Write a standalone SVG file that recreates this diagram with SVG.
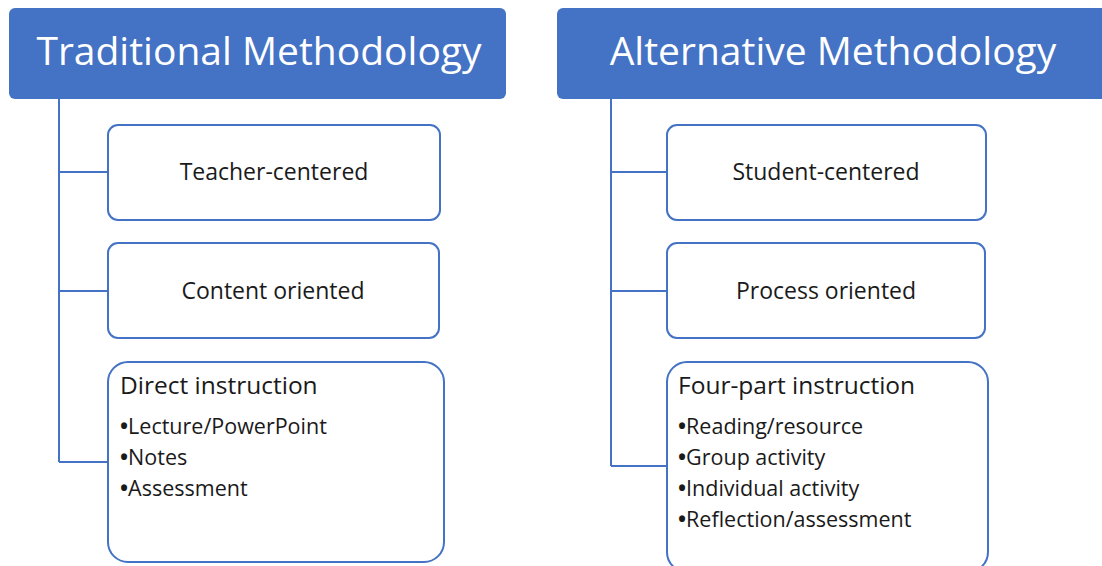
<svg xmlns="http://www.w3.org/2000/svg" width="1102" height="566" viewBox="0 0 1102 566">
<style>
.hdr{fill:#4472C4;}
.hdrt{font-family:"Open Sans",Lato,sans-serif;font-size:39px;fill:#ffffff;text-anchor:middle;}
.box{fill:#ffffff;stroke:#4472C4;stroke-width:2;}
.bt{font-family:"Open Sans",Lato,sans-serif;font-size:23px;fill:#1a1a1a;text-anchor:middle;}
.tt{font-family:"Open Sans",Lato,sans-serif;font-size:24.5px;fill:#1a1a1a;}
.li{font-family:"Open Sans",Lato,sans-serif;font-size:21.5px;fill:#1a1a1a;}
.bu{font-weight:bold;}
.con{fill:none;stroke:#4472C4;stroke-width:2;}
</style>
<rect width="1102" height="566" fill="#ffffff"/>
<g id="connectors">
<path class="con" d="M59,99 V462 M59,172 H108 M59,291 H108 M59,462 H108"/>
<path class="con" d="M611,99 V466 M611,172 H667 M611,291 H667 M611,466 H667"/>
</g>
<g id="traditional">
<rect class="hdr" x="9" y="8" width="497" height="91" rx="6"/>
<text class="hdrt" x="259" y="65">Traditional Methodology</text>
</g>
<g id="teacher-centered">
<rect class="box" x="108" y="125" width="332" height="95" rx="10"/>
<text class="bt" x="274" y="180">Teacher-centered</text>
</g>
<g id="content-oriented">
<rect class="box" x="108" y="243" width="331" height="95" rx="10"/>
<text class="bt" x="273" y="299">Content oriented</text>
</g>
<g id="direct-instruction">
<rect class="box" x="108" y="362" width="336" height="200" rx="20"/>
<text class="tt" x="120" y="394">Direct instruction</text>
<text class="li" x="120" y="434"><tspan class="bu">•</tspan>Lecture/PowerPoint</text>
<text class="li" x="120" y="465"><tspan class="bu">•</tspan>Notes</text>
<text class="li" x="120" y="496"><tspan class="bu">•</tspan>Assessment</text>
</g>
<g id="alternative">
<rect class="hdr" x="557" y="8" width="560" height="91" rx="6"/>
<text class="hdrt" x="833" y="65">Alternative Methodology</text>
</g>
<g id="student-centered">
<rect class="box" x="667" y="125" width="319" height="95" rx="10"/>
<text class="bt" x="826" y="180">Student-centered</text>
</g>
<g id="process-oriented">
<rect class="box" x="667" y="243" width="318" height="95" rx="10"/>
<text class="bt" x="826" y="299">Process oriented</text>
</g>
<g id="four-part-instruction">
<rect class="box" x="667" y="362" width="321" height="210" rx="20"/>
<text class="tt" x="678" y="394">Four-part instruction</text>
<text class="li" x="678" y="434"><tspan class="bu">•</tspan>Reading/resource</text>
<text class="li" x="678" y="465"><tspan class="bu">•</tspan>Group activity</text>
<text class="li" x="678" y="496"><tspan class="bu">•</tspan>Individual activity</text>
<text class="li" x="678" y="527"><tspan class="bu">•</tspan>Reflection/assessment</text>
</g>
</svg>
